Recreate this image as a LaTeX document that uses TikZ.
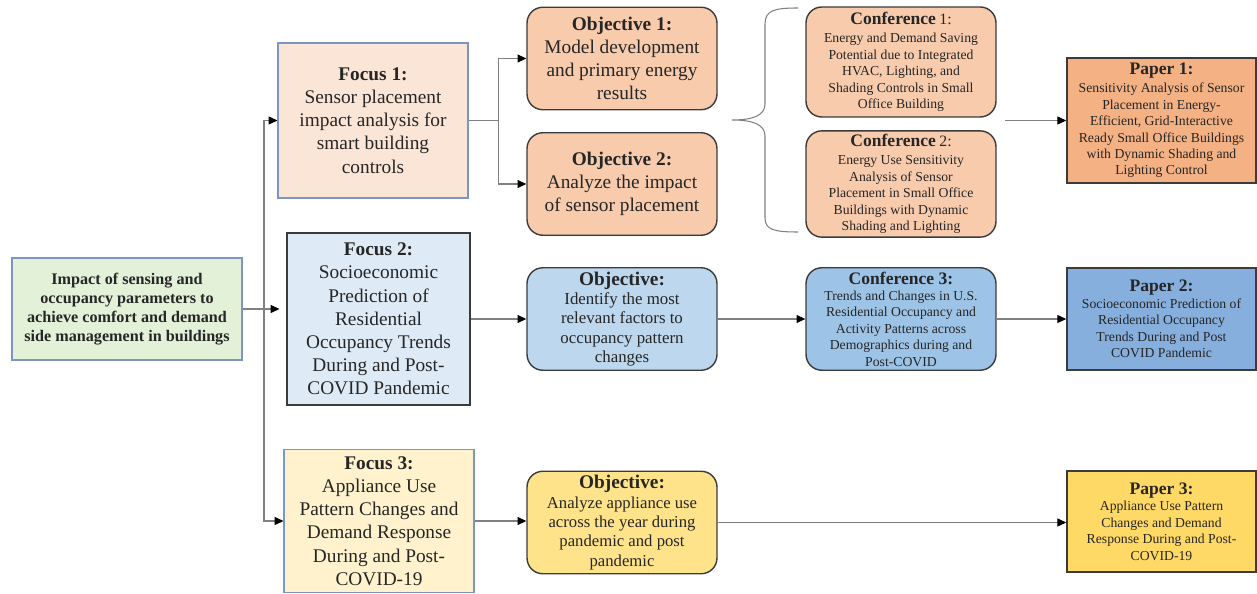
\documentclass[tikz,border=0pt]{standalone}
\usepackage{fontspec}
\setmainfont{Liberation Serif}
\usetikzlibrary{arrows.meta, positioning, calc}
\usepackage{xcolor}
\definecolor{edgeblue}{HTML}{7B96C6}
\definecolor{edgedark}{HTML}{3B3B3B}
\definecolor{lineg}{HTML}{808080}
\definecolor{greenbg}{HTML}{E3F1D9}
\definecolor{peachA}{HTML}{FBE5D6}
\definecolor{peachB}{HTML}{F8CBAD}
\definecolor{peachC}{HTML}{F4B183}
\definecolor{blueA}{HTML}{DEEBF7}
\definecolor{blueB}{HTML}{BDD7EE}
\definecolor{blueC}{HTML}{9DC3E6}
\definecolor{blueD}{HTML}{86AFDD}
\definecolor{goldA}{HTML}{FFF2CC}
\definecolor{goldB}{HTML}{FFE38A}
\definecolor{goldC}{HTML}{FFD966}
\newcommand{\bigttl}[1]{{\fontsize{11}{13.2}\selectfont\bfseries #1}}
\newcommand{\smlttl}[1]{{\fontsize{10}{12}\selectfont\bfseries #1}}

\begin{document}
\begin{tikzpicture}[
  x=0.02cm, y=-0.02cm,
  fbox/.style={rectangle, draw=edgeblue, line width=0.6pt,
               minimum width=3.8cm, align=center, inner sep=2pt,
               text=black!85, font=\fontsize{11}{13.2}\selectfont},
  obox/.style={rectangle, rounded corners=9pt, draw=edgedark,
               line width=0.8pt, minimum width=3.8cm,
               minimum height=2.05cm, align=center, inner sep=2pt,
               text=black!85, font=\fontsize{11}{13.2}\selectfont},
  cbox/.style={obox, font=\fontsize{7.8}{9.35}\selectfont},
  pbox/.style={rectangle, draw=edgedark, line width=0.9pt,
               minimum width=3.78cm, align=center, inner sep=2pt,
               text=black!85, font=\fontsize{7.8}{9.35}\selectfont},
  arr/.style={-{Triangle[length=5pt, width=4.5pt, color=black]},
              draw=lineg, line width=0.6pt},
  brc/.style={draw=lineg, line width=0.6pt},
]
  \useasboundingbox (0,0) rectangle (1257,594);

  %% Root
  \node[fbox, fill=greenbg, minimum width=4.6cm, minimum height=2.04cm,
        font=\fontsize{9.2}{10.9}\selectfont\bfseries] (root) at (127,309)
        {Impact of sensing and\\occupancy parameters to\\achieve comfort and demand\\side management in buildings};

  %% Focus column
  \node[fbox, fill=peachA, minimum height=3.1cm] (f1) at (373,120.5)
        {\bigttl{Focus 1:}\\Sensor placement\\impact analysis for\\smart building\\controls};
  \node[fbox, fill=blueA, draw=edgedark, minimum width=3.66cm,
        minimum height=3.44cm] (f2) at (378.5,319)
        {\bigttl{Focus 2:}\\Socioeconomic\\Prediction of\\Residential\\Occupancy Trends\\During and Post-\\COVID Pandemic};
  \node[fbox, fill=goldA, minimum height=2.86cm] (f3) at (379,521)
        {\bigttl{Focus 3:}\\Appliance Use\\Pattern Changes and\\Demand Response\\During and Post-\\COVID-19};

  %% Objectives
  \node[obox, fill=peachB] (o1) at (622,58.5)
        {\bigttl{Objective 1:}\\Model development\\and primary energy\\results};
  \node[obox, fill=peachB] (o2) at (622,184)
        {\bigttl{Objective 2:}\\Analyze the impact\\of sensor placement};
  \node[obox, fill=blueB, font=\fontsize{9.6}{11}\selectfont] (o3) at (622,319)
        {\bigttl{Objective:}\\Identify the most\\relevant factors to\\occupancy pattern\\changes};
  \node[obox, fill=goldB, font=\fontsize{9.5}{11}\selectfont] (o4) at (622,522.5)
        {\bigttl{Objective:}\\Analyze appliance use\\across the year during\\pandemic and post\\pandemic};

  %% Conferences
  \node[cbox, fill=peachB, minimum height=2.2cm] (c1) at (901,62)
        {\smlttl{Conference} {\fontsize{9}{10}\selectfont 1:}\\[1pt]Energy and Demand Saving\\Potential due to Integrated\\HVAC, Lighting, and\\Shading Controls in Small\\Office Building};
  \node[cbox, fill=peachB] (c2) at (901,184)
        {\smlttl{Conference} {\fontsize{9}{10}\selectfont 2:}\\[1pt]Energy Use Sensitivity\\Analysis of Sensor\\Placement in Small Office\\Buildings with Dynamic\\Shading and Lighting};
  \node[cbox, fill=blueC] (c3) at (901,319)
        {\smlttl{Conference 3:}\\Trends and Changes in U.S.\\Residential Occupancy and\\Activity Patterns across\\Demographics during and\\Post-COVID};

  %% Papers
  \node[pbox, fill=peachC, minimum height=2.5cm] (p1) at (1161.5,120.5)
        {\smlttl{Paper 1:}\\[1pt]Sensitivity Analysis of Sensor\\Placement in Energy-\\Efficient, Grid-Interactive\\Ready Small Office Buildings\\with Dynamic Shading and\\Lighting Control};
  \node[pbox, fill=blueD, minimum height=2.04cm] (p2) at (1161.5,319)
        {\smlttl{Paper 2:}\\Socioeconomic Prediction of\\Residential Occupancy\\Trends During and Post\\COVID Pandemic};
  \node[pbox, fill=goldC, minimum height=2.02cm] (p3) at (1161.5,521.5)
        {\smlttl{Paper 3:}\\Appliance Use Pattern\\Changes and Demand\\Response During and Post-\\COVID-19};

  %% Root -> focus column
  \coordinate (trunk) at (264,310);
  \draw[arr] (root.east) -- ([xshift=-0.14cm]root.east -| f2.west);
  \draw[arr] (trunk) |- (f1.west);
  \draw[arr] (trunk) |- (f3.west);

  %% Focus 1 branch
  \draw[arr] (f1.east) -- ++(30,0) |- (o1.west);
  \draw[arr] (f1.east) -- ++(30,0) |- (o2.west);

  %% Brace round the two conferences
  \draw[brc] (798,8) .. controls (775,8) and (765,10) .. (765,24)
    -- (765,104) .. controls (765,116) and (752,120) .. (732,120)
    .. controls (752,120) and (765,124) .. (765,136)
    -- (765,218) .. controls (765,230) and (775,232) .. (798,232);
  \coordinate (bout) at (1005,120.5);
  \draw[arr] (bout) -- (p1.west);

  %% Focus 2 row
  \draw[arr] (f2.east) -- (o3.west);
  \draw[arr] (o3.east) -- (c3.west);
  \draw[arr] (c3.east) -- (p2.west);

  %% Focus 3 row
  \draw[arr] (f3.east) -- (f3.east -| o4.west);
  \draw[arr] (o4.east) -- (o4.east -| p3.west);

\end{tikzpicture}
\end{document}
